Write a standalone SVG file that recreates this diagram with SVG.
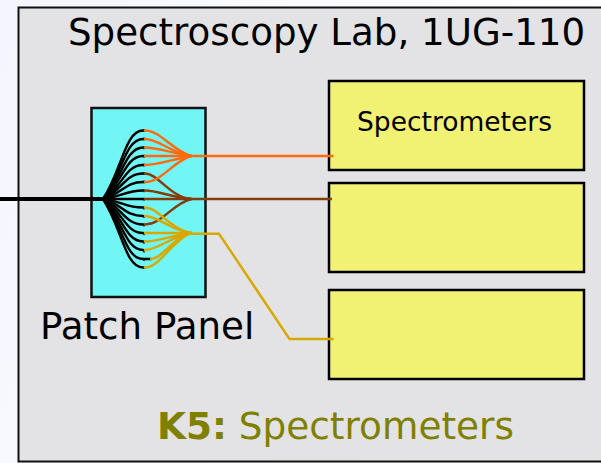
<svg xmlns="http://www.w3.org/2000/svg" width="601" height="463" viewBox="0 0 601 463">
<defs>
<linearGradient id="bg" x1="0" y1="0" x2="1" y2="0.300"><stop offset="0" stop-color="#f5f5ff"/><stop offset="1" stop-color="#ffffff"/></linearGradient>
</defs>
<style>
.t{font-family:"DejaVu Sans",sans-serif}
.box{fill:#f1f174;stroke:#000;stroke-width:2.500}
.f{fill:none;stroke-width:2.400;stroke-linecap:round}
.k{stroke:#000}.o{stroke:#ff6a0e}.b{stroke:#843c0c}.g{stroke:#d8a800}
</style>
<rect width="601" height="463" fill="url(#bg)"/>
<g id="lab"><rect x="18.500" y="7.500" width="590" height="454" fill="#e3e3e5" stroke="#111" stroke-width="2"/>
<text class="t" x="68" y="45" font-size="37.200">Spectroscopy Lab, 1UG-110</text></g>
<g id="patch-panel"><rect x="91.500" y="108" width="114" height="189" fill="#72f5f5" stroke="#111" stroke-width="2.500"/>
<text class="t" x="40" y="339" font-size="37.200">Patch Panel</text></g>
<g id="spectrometers-1"><rect class="box" x="329" y="81" width="255" height="89"/>
<text class="t" x="357" y="131" font-size="26.500">Spectrometers</text></g>
<g id="spectrometers-2"><rect class="box" x="329" y="183" width="255" height="89"/></g>
<g id="spectrometers-3"><rect class="box" x="329" y="290" width="255" height="89"/></g>
<g id="connectors">
<path d="M0 199H103" fill="none" stroke="#000" stroke-width="4"/>
<g class="f k">
<path d="M103 199C122 170 125 130.500 143 130.500"/><path d="M103 199C122 175 125 139 143 139"/><path d="M103 199C122 180 125 147.500 143 147.500"/><path d="M103 199C122 184 125 156 143 156"/><path d="M103 199C122 188 125 165 143 165"/><path d="M103 199C122 191 125 173.500 143 173.500"/><path d="M103 199C122 194 125 182 143 182"/><path d="M103 199C122 197 125 190.500 143 190.500"/><path d="M103 199H143"/><path d="M103 199C122 201 125 207.500 143 207.500"/><path d="M103 199C122 204 125 216 143 216"/><path d="M103 199C122 207 125 224.500 143 224.500"/><path d="M103 199C122 210 125 233 143 233"/><path d="M103 199C122 214 125 241.500 143 241.500"/><path d="M103 199C122 218 125 250 143 250"/><path d="M103 199C122 223 125 259 143 259"/><path d="M103 199C122 228 125 267.500 143 267.500"/>
<path d="M143 259H151"/>
</g>
<g stroke="#111" stroke-width="1.500" stroke-dasharray="3 5.600"><path d="M144 129V269" fill="none"/></g>
<g class="f b">
<path d="M145 173.500C158 173.500 170 197 191 199"/><path d="M145 190.500C158 190.500 170 197 191 199"/><path d="M145 199H191"/><path d="M145 224.500C162 224.500 172 204 191 199"/>
</g>
<g class="f g">
<path d="M145 207.500C158 207.500 170 229 191 233"/><path d="M145 216C158 216 170 230 191 233"/><path d="M145 233H191"/><path d="M145 241.500C158 241.500 170 236 191 233"/><path d="M145 250C158 250 170 237 191 233"/><path d="M151 259C162 259 172 238 191 233"/><path d="M145 267.500C160 267.500 172 240 191 233"/>
</g>
<g class="f o">
<path d="M145 130.500C160 130.500 172 150 191 156"/><path d="M145 139C158 139 170 152 191 156"/><path d="M145 147.500C158 147.500 170 153 191 156"/><path d="M145 156H191"/><path d="M145 165C158 165 170 160 191 156"/><path d="M145 182C162 182 172 162 191 156"/>
</g>
<path class="o" d="M190 156H333.500" fill="none" stroke-width="2.400"/>
<path class="b" d="M190 199H332" fill="none" stroke-width="2.400"/>
<path class="g" d="M190 233.800H219L289.500 339H333.500" fill="none" stroke-width="2.400"/>
</g>
<g id="caption"><text class="t" x="157" y="439" font-size="37.400" fill="#808000"><tspan font-weight="bold">K5:</tspan> Spectrometers</text></g>
</svg>
